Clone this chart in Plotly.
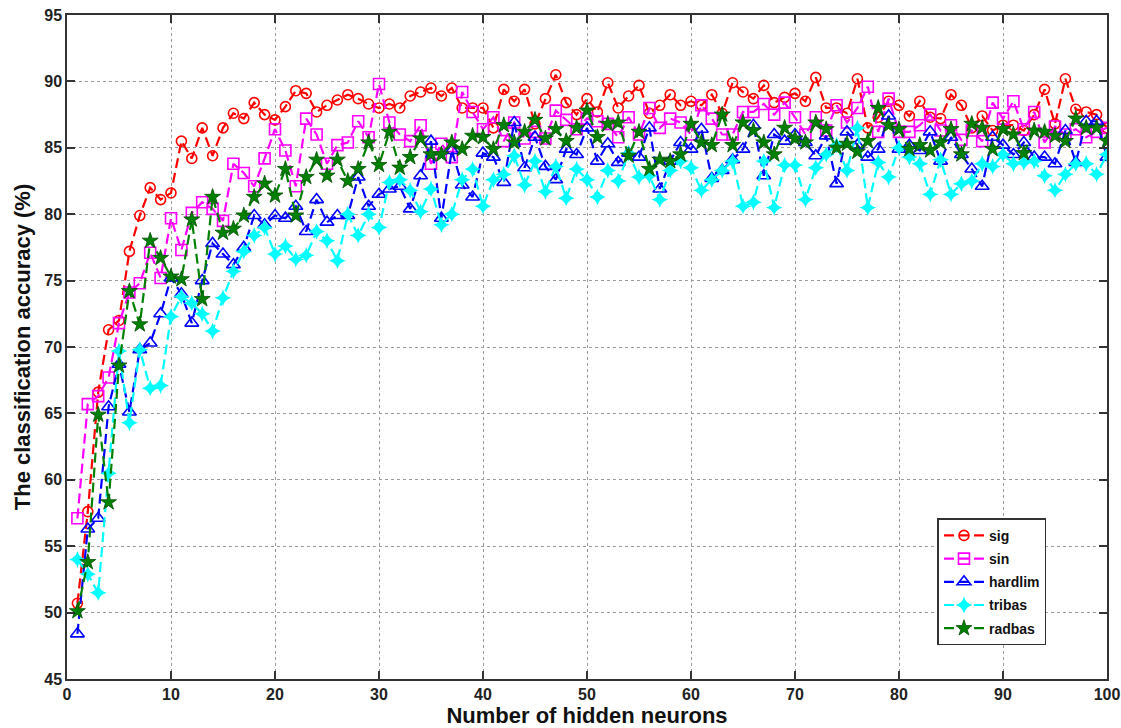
import plotly.graph_objects as go

# Number of hidden neurons (1..100)
neurons = list(range(1, 101))

acc_sig = [
    50.7, 57.6, 66.6, 71.3, 72.0, 77.2, 79.9, 82.0, 81.1, 81.6,
    85.5, 84.2, 86.5, 84.4, 86.5, 87.6, 87.2, 88.4, 87.5, 87.1,
    88.1, 89.3, 89.1, 87.7, 88.2, 88.6, 89.0, 88.7, 88.3, 88.0,
    88.3, 88.0, 88.9, 89.2, 89.5, 88.9, 89.5, 88.0, 88.0, 88.0,
    86.5, 89.4, 88.5, 89.4, 86.8, 88.7, 90.5, 88.4, 87.5, 88.7,
    87.7, 89.9, 88.0, 88.9, 89.7, 87.6, 88.2, 89.0, 88.2, 88.5,
    88.2, 89.0, 87.6, 89.9, 89.2, 88.7, 89.7, 88.4, 88.8, 89.1,
    88.5, 90.3, 88.0, 88.0, 87.6, 90.2, 86.5, 87.3, 88.5, 88.2,
    87.4, 88.5, 87.3, 87.2, 89.0, 88.2, 86.5, 87.4, 86.3, 86.7,
    86.7, 86.3, 87.5, 89.4, 86.8, 90.2, 87.9, 87.7, 87.5, 86.5,
]

acc_sin = [
    57.1, 65.7, 66.3, 67.7, 71.8, 74.1, 74.8, 77.1, 75.2, 79.7,
    77.3, 80.1, 80.9, 80.4, 79.5, 83.8, 83.1, 82.1, 84.2, 86.4,
    84.8, 82.1, 87.2, 86.0, 83.8, 85.2, 85.4, 87.0, 85.8, 89.8,
    86.9, 86.0, 85.5, 86.7, 83.8, 85.3, 84.3, 89.2, 87.7, 86.4,
    87.3, 85.5, 86.9, 85.7, 86.2, 85.7, 87.8, 87.1, 86.4, 87.2,
    87.0, 86.8, 85.8, 87.3, 86.0, 88.0, 86.5, 87.2, 86.9, 86.0,
    88.2, 87.2, 86.0, 86.0, 87.7, 87.7, 88.3, 87.5, 88.4, 87.3,
    86.0, 87.3, 86.3, 88.2, 86.9, 88.0, 89.6, 86.2, 88.7, 86.2,
    86.2, 86.7, 87.5, 86.3, 86.7, 85.6, 86.3, 85.5, 88.4, 87.2,
    88.5, 86.4, 87.7, 85.4, 86.6, 86.0, 86.4, 85.8, 86.2, 86.5,
]

acc_hardlim = [
    48.4, 56.3, 57.1, 65.5, 68.7, 65.1, 69.8, 70.3, 72.5, 75.2,
    74.0, 71.8, 75.0, 77.8, 77.0, 76.2, 77.5, 79.9, 79.2, 79.9,
    79.7, 80.6, 78.7, 81.1, 79.4, 79.9, 79.9, 82.8, 80.6, 81.5,
    81.9, 82.1, 80.4, 82.9, 85.5, 79.7, 84.8, 82.2, 81.3, 84.6,
    84.3, 82.4, 86.9, 83.5, 85.8, 83.6, 82.6, 84.9, 84.5, 86.5,
    84.0, 85.3, 83.9, 84.6, 84.3, 86.5, 81.9, 84.0, 85.4, 84.9,
    86.4, 82.7, 83.3, 84.1, 84.9, 86.7, 82.9, 86.0, 85.5, 86.0,
    85.4, 84.4, 85.9, 82.3, 86.2, 85.2, 84.3, 84.9, 87.4, 84.9,
    85.2, 84.8, 86.2, 84.0, 85.8, 84.5, 83.4, 82.1, 85.8, 85.2,
    84.5, 85.4, 84.3, 84.3, 83.8, 86.3, 83.9, 87.0, 87.0, 84.3,
]

acc_tribas = [
    54.0, 52.9, 51.5, 60.5, 69.7, 64.3, 69.8, 66.9, 67.1, 72.3,
    73.8, 73.3, 72.5, 71.2, 73.7, 75.7, 77.2, 78.4, 79.0, 77.0,
    77.6, 76.6, 76.9, 78.7, 78.0, 76.5, 80.0, 78.4, 80.0, 79.0,
    82.4, 82.6, 81.8, 80.2, 81.9, 79.2, 80.0, 82.6, 83.4, 80.6,
    82.6, 83.0, 84.4, 82.2, 84.0, 81.7, 83.6, 81.2, 83.4, 82.6,
    81.3, 83.3, 82.5, 84.6, 82.8, 82.9, 81.1, 83.3, 84.0, 83.5,
    81.8, 82.6, 83.3, 84.0, 80.6, 80.9, 84.0, 80.5, 83.7, 83.7,
    81.1, 83.5, 84.5, 85.2, 83.3, 86.5, 80.5, 83.9, 82.8, 85.0,
    84.3, 83.8, 81.5, 84.1, 81.5, 82.3, 82.5, 83.8, 83.6, 84.5,
    83.8, 83.9, 84.0, 82.9, 81.8, 83.0, 83.8, 83.8, 83.0, 84.5,
]

acc_radbas = [
    50.1, 53.8, 64.9, 58.3, 68.6, 74.2, 71.7, 78.0, 76.7, 75.3,
    75.1, 79.6, 73.6, 81.3, 78.6, 78.9, 79.9, 81.3, 82.3, 81.4,
    83.4, 79.9, 82.8, 84.1, 82.9, 84.1, 82.5, 83.4, 85.4, 83.7,
    86.2, 83.5, 84.3, 85.7, 84.5, 84.5, 85.4, 84.9, 85.9, 85.8,
    84.9, 86.7, 85.4, 86.2, 87.1, 85.7, 86.4, 85.5, 86.5, 87.8,
    85.8, 86.8, 86.9, 84.4, 86.2, 83.4, 84.1, 84.0, 84.5, 86.8,
    85.4, 85.2, 87.5, 85.2, 86.9, 86.3, 85.4, 84.5, 86.5, 85.7,
    85.4, 86.9, 86.4, 85.0, 85.3, 84.7, 85.5, 88.0, 86.7, 86.4,
    84.9, 85.2, 84.8, 85.4, 86.4, 84.5, 86.8, 86.5, 84.9, 86.4,
    86.0, 84.6, 86.3, 86.2, 85.9, 85.5, 87.2, 86.5, 86.5, 85.5,
]

series = [
    ("sig", acc_sig, "#ff0000", "circle-open", 10),
    ("sin", acc_sin, "#ff00ff", "square-open", 11),
    ("hardlim", acc_hardlim, "#0000ff", "triangle-up-open", 12),
    ("tribas", acc_tribas, "#00ffff", "star-diamond", 12),
    ("radbas", acc_radbas, "#008000", "star", 12),
]

fig = go.Figure()
for name, vals, color, symbol, size in series:
    marker = dict(symbol=symbol, size=size, color=color)
    if symbol == "star":
        marker["line"] = dict(color="#004d00", width=0.8)
    elif symbol == "star-diamond":
        marker["line"] = dict(color=color, width=0)
    else:
        marker["line"] = dict(color=color, width=1.6)
    fig.add_trace(go.Scatter(
        x=neurons, y=vals, name=name, mode="lines+markers",
        legendgroup=name,
        line=dict(color=color, width=2.2, dash="10px,5px"),
        marker=marker,
    ))

axis_font = dict(family="Liberation Sans, Arial", size=16, color="#222222", weight="bold")
title_font = dict(family="Liberation Sans, Arial", size=22, color="#111111", weight="bold")

fig.update_layout(
    width=1121, height=728,
    margin=dict(l=67, r=14, t=15, b=49),
    paper_bgcolor="white", plot_bgcolor="white",
    showlegend=True,
    legend=dict(
        x=0.837, y=0.242, xanchor="left", yanchor="top",
        bgcolor="white", bordercolor="#333333", borderwidth=1.5,
        font=dict(family="Liberation Sans, Arial", size=14, color="#111111", weight="bold"),
        itemwidth=40, tracegroupgap=2,
    ),
)

fig.update_xaxes(
    range=[0, 100], tickvals=list(range(0, 101, 10)), automargin=False,
    showgrid=True, gridcolor="#9a9a9a", griddash="dot", gridwidth=1,
    showline=True, linecolor="#333333", linewidth=1.5, mirror="allticks",
    ticks="inside", ticklen=8, tickcolor="#333333", tickwidth=1.5,
    tickfont=axis_font, zeroline=False,
    title=dict(text="Number of hidden neurons", font=title_font, standoff=6),
)
fig.update_yaxes(
    range=[45, 95], tickvals=list(range(45, 96, 5)), automargin=False,
    showgrid=True, gridcolor="#9a9a9a", griddash="dot", gridwidth=1,
    showline=True, linecolor="#333333", linewidth=1.5, mirror="allticks",
    ticks="inside", ticklen=8, tickcolor="#333333", tickwidth=1.5,
    tickfont=axis_font, zeroline=False,
    title=dict(text="The classification accuracy (%)", font=title_font, standoff=8),
)

fig.write_html("out.html")
